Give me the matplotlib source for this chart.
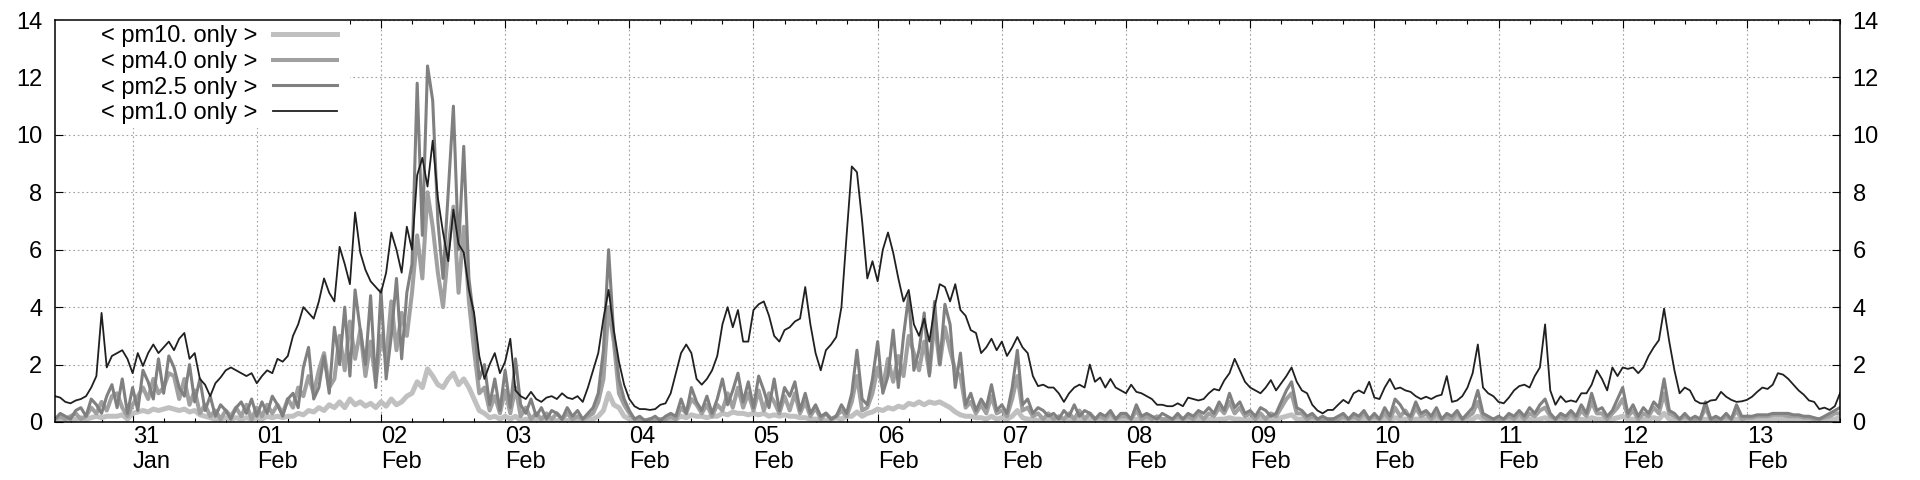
import pandas as pd
import matplotlib
matplotlib.use("Agg")
import matplotlib.pyplot as plt
import matplotlib.dates as mdates
from matplotlib.patches import Rectangle

plt.rcParams['font.family'] = ['Liberation Sans', 'DejaVu Sans']
plt.rcParams['font.size'] = 17

# hourly readings from 30 Jan 09:00 to 13 Feb 18:00
start = "2024-01-30 09:00"

pm1 = [
    0.9, 0.85, 0.7, 0.65, 0.75, 0.8, 0.9, 1.2, 1.6, 3.8, 1.9, 2.3, 2.4, 2.5, 2.2,  # 30 Jan
    1.7, 2.4, 1.95, 2.4, 2.7, 2.4, 2.6, 2.8, 2.5, 2.9, 3.1, 2.2, 2.4, 1.5, 1.3, 0.9, 1.35, 1.55, 1.8, 1.9, 1.8, 1.7, 1.6, 1.7,
    1.35, 1.6, 1.8, 1.7, 2.2, 2.1, 2.3, 3.0, 3.4, 4.0, 3.8, 3.6, 4.2, 5.0, 4.5, 4.2, 6.1, 5.5, 4.8, 7.3, 5.9, 5.3, 4.9, 4.7,
    4.5, 5.2, 6.6, 6.0, 5.2, 6.8, 6.0, 8.6, 9.2, 8.2, 9.8, 7.8, 6.6, 5.6, 7.4, 6.2, 5.9, 4.6, 3.8, 2.3, 1.5, 2.0, 2.4, 1.7,
    2.1, 2.9, 1.1, 0.9, 0.8, 1.05, 0.8, 0.7, 0.85, 0.9, 0.8, 1.0, 0.85, 0.8, 0.9, 0.7, 1.2, 1.8, 2.4, 3.6, 4.6, 3.2, 2.1, 1.3,
    0.8, 0.55, 0.45, 0.45, 0.42, 0.45, 0.6, 0.65, 1.0, 1.7, 2.4, 2.7, 2.4, 1.5, 1.3, 1.5, 1.8, 2.3, 3.4, 4.0, 3.3, 3.9, 2.8, 2.8,
    3.9, 4.1, 4.2, 3.7, 3.0, 2.8, 3.2, 3.3, 3.5, 3.6, 4.7, 3.4, 2.4, 1.8, 2.5, 2.7, 2.96, 4.0, 6.5, 8.9, 8.7, 7.0, 5.0, 5.6,
    4.9, 6.0, 6.6, 5.9, 5.0, 4.2, 4.6, 3.4, 3.0, 3.6, 2.8, 4.0, 4.8, 4.7, 4.2, 4.8, 3.9, 3.7, 3.2, 3.1, 2.4, 2.6, 2.9, 2.5,
    2.8, 2.3, 2.6, 2.96, 2.6, 2.4, 1.6, 1.25, 1.3, 1.2, 1.2, 1.0, 0.7, 1.0, 1.2, 1.3, 1.2, 2.0, 1.4, 1.55, 1.2, 1.5, 1.2, 1.1,
    1.0, 1.3, 1.05, 1.0, 0.9, 0.8, 0.6, 0.6, 0.55, 0.55, 0.65, 0.55, 0.85, 0.8, 0.75, 0.8, 1.0, 1.15, 1.1, 1.45, 1.7, 2.2, 1.8, 1.4,
    1.2, 1.1, 1.0, 1.2, 1.46, 1.1, 1.35, 1.6, 1.9, 1.4, 1.1, 1.0, 0.6, 0.4, 0.3, 0.42, 0.42, 0.6, 0.77, 0.65, 1.0, 1.1, 1.0, 1.4,
    0.85, 0.8, 1.2, 1.5, 1.15, 1.2, 1.1, 1.05, 0.9, 0.8, 0.88, 0.8, 0.9, 0.95, 1.6, 0.7, 0.75, 0.9, 1.2, 1.7, 2.7, 1.2, 1.0, 0.9,
    0.7, 0.65, 0.85, 1.1, 1.25, 1.3, 1.2, 1.6, 1.9, 3.4, 1.1, 0.6, 0.9, 0.7, 0.75, 0.7, 1.0, 1.0, 1.3, 1.8, 1.5, 1.1, 1.9, 1.6,
    1.9, 1.85, 1.9, 1.7, 1.9, 2.3, 2.6, 2.85, 3.95, 2.8, 1.8, 1.0, 1.2, 1.1, 0.75, 0.65, 0.65, 0.75, 0.77, 1.05, 0.88, 0.77, 0.7, 0.72,
    0.77, 0.88, 1.05, 1.2, 1.15, 1.3, 1.7, 1.65, 1.5, 1.3, 1.1, 0.95, 0.75, 0.7, 0.45, 0.5, 0.42, 0.55, 1.0,  # 13 Feb
]

pm25 = [
    0.1, 0.3, 0.2, 0.1, 0.4, 0.5, 0.2, 0.8, 0.6, 0.3, 0.9, 1.3, 0.5, 1.5, 0.3,
    1.2, 0.4, 1.8, 1.4, 0.8, 2.2, 1.0, 2.3, 1.9, 1.2, 0.9, 2.0, 0.7, 1.5, 0.4, 0.9, 0.2, 0.6, 0.4, 0.1, 0.5, 0.7, 0.3, 0.8,
    0.2, 0.7, 0.3, 0.9, 0.6, 0.2, 0.8, 1.0, 0.5, 1.9, 2.6, 0.8, 1.2, 2.3, 1.0, 3.3, 2.0, 4.0, 1.6, 4.6, 3.2, 2.0, 4.4, 1.2,
    4.6, 1.5, 3.0, 5.0, 2.2, 4.5, 5.5, 11.8, 6.5, 12.4, 11.2, 7.0, 5.0, 8.0, 11.0, 6.0, 9.6, 5.0, 3.5, 1.5, 2.0, 0.6, 1.5, 0.4,
    1.8, 0.5, 2.2, 0.6, 0.3, 0.8, 0.2, 0.5, 0.1, 0.4, 0.3, 0.1, 0.5, 0.2, 0.4, 0.1, 0.3, 0.5, 1.0, 2.5, 6.0, 3.0, 1.5, 0.8,
    0.4, 0.1, 0.2, 0.05, 0.1, 0.2, 0.05, 0.2, 0.3, 0.2, 0.8, 0.3, 1.2, 0.7, 0.4, 0.9, 0.3, 0.8, 1.5, 0.6, 1.1, 1.7, 0.7, 1.4,
    0.5, 1.6, 1.1, 0.5, 1.5, 0.4, 1.2, 0.9, 1.4, 0.4, 1.0, 0.3, 0.6, 0.2, 0.3, 0.1, 0.2, 0.6, 0.3, 1.0, 2.5, 0.8, 0.6, 1.5,
    2.8, 1.0, 1.6, 3.2, 1.2, 3.0, 4.4, 1.8, 2.5, 3.8, 1.6, 4.2, 2.0, 4.1, 3.4, 1.2, 2.4, 0.6, 1.0, 0.4, 0.8, 0.5, 1.3, 0.4,
    0.6, 0.3, 1.2, 2.5, 0.6, 0.8, 0.3, 0.5, 0.4, 0.2, 0.3, 0.1, 0.4, 0.2, 0.6, 0.2, 0.4, 0.3, 0.1, 0.3, 0.2, 0.4, 0.1, 0.3,
    0.3, 0.1, 0.6, 0.2, 0.3, 0.2, 0.1, 0.3, 0.2, 0.1, 0.3, 0.1, 0.3, 0.2, 0.4, 0.3, 0.5, 0.3, 0.7, 0.4, 1.0, 0.5, 0.7, 0.3,
    0.4, 0.2, 0.5, 0.4, 0.2, 0.3, 0.7, 1.1, 1.4, 0.5, 0.4, 0.2, 0.3, 0.1, 0.2, 0.1, 0.1, 0.2, 0.3, 0.1, 0.3, 0.2, 0.4, 0.1,
    0.3, 0.1, 0.5, 0.2, 0.8, 0.6, 0.3, 0.2, 0.7, 0.3, 0.4, 0.2, 0.5, 0.1, 0.3, 0.2, 0.4, 0.1, 0.3, 0.5, 1.1, 0.3, 0.2, 0.1,
    0.2, 0.1, 0.3, 0.2, 0.4, 0.2, 0.5, 0.3, 0.6, 0.8, 0.3, 0.1, 0.3, 0.2, 0.4, 0.2, 0.6, 0.3, 1.0, 0.4, 0.5, 0.2, 0.4, 0.8,
    1.2, 0.3, 0.6, 0.2, 0.5, 0.3, 0.7, 0.5, 1.5, 0.4, 0.3, 0.1, 0.3, 0.1, 0.2, 0.1, 0.7, 0.1, 0.2, 0.1, 0.3, 0.1, 0.6, 0.2,
    0.2, 0.2, 0.25, 0.25, 0.25, 0.3, 0.3, 0.3, 0.3, 0.25, 0.25, 0.2, 0.2, 0.15, 0.1, 0.2, 0.3, 0.4, 0.5,
]

pm4 = [
    0.1, 0.2, 0.1, 0.2, 0.3, 0.1, 0.2, 0.5, 0.3, 0.7, 0.4, 0.9, 1.0, 0.5, 0.2,
    0.6, 0.9, 1.2, 0.8, 1.5, 1.0, 1.2, 1.7, 1.6, 0.8, 1.5, 0.6, 1.1, 0.3, 0.6, 0.2, 0.4, 0.1, 0.4, 0.2, 0.5, 0.2, 0.6, 0.1,
    0.5, 0.2, 0.6, 0.3, 0.6, 0.3, 0.8, 0.5, 1.2, 0.9, 1.6, 1.0, 1.8, 2.4, 1.2, 1.5, 3.0, 1.8, 3.5, 2.2, 3.2, 1.6, 2.8, 1.4,
    3.0, 2.2, 4.2, 2.5, 3.8, 3.0, 4.5, 6.5, 5.0, 8.0, 6.8, 5.2, 4.0, 6.0, 7.5, 4.5, 6.8, 4.2, 2.5, 1.0, 1.2, 0.4, 0.9, 0.3,
    1.1, 0.3, 1.2, 0.2, 0.5, 0.1, 0.3, 0.1, 0.3, 0.1, 0.3, 0.1, 0.3, 0.1, 0.2, 0.1, 0.2, 0.3, 0.7, 1.5, 4.0, 2.8, 1.0, 0.6,
    0.3, 0.1, 0.1, 0.05, 0.1, 0.05, 0.1, 0.1, 0.2, 0.1, 0.5, 0.3, 0.8, 0.6, 0.3, 0.6, 0.2, 0.6, 0.4, 1.0, 0.5, 1.2, 0.5, 1.0,
    0.4, 1.1, 0.4, 1.0, 0.7, 0.3, 0.9, 0.4, 1.0, 0.3, 0.7, 0.2, 0.5, 0.1, 0.3, 0.1, 0.2, 0.4, 0.2, 0.7, 1.6, 0.4, 0.5, 1.0,
    1.9, 1.2, 2.2, 1.4, 2.3, 1.6, 3.0, 2.4, 1.8, 2.8, 1.7, 3.5, 2.0, 3.3, 2.5, 1.8, 1.6, 0.5, 0.7, 0.3, 0.6, 0.3, 0.9, 0.3,
    0.4, 0.2, 0.8, 1.6, 0.4, 0.5, 0.2, 0.3, 0.1, 0.3, 0.1, 0.2, 0.1, 0.3, 0.1, 0.4, 0.1, 0.3, 0.1, 0.2, 0.1, 0.3, 0.1, 0.2,
    0.2, 0.1, 0.4, 0.1, 0.2, 0.1, 0.2, 0.1, 0.1, 0.1, 0.2, 0.1, 0.2, 0.1, 0.3, 0.1, 0.3, 0.2, 0.5, 0.3, 0.7, 0.3, 0.5, 0.2,
    0.3, 0.1, 0.3, 0.1, 0.3, 0.2, 0.5, 0.8, 1.0, 0.3, 0.3, 0.1, 0.2, 0.1, 0.1, 0.1, 0.1, 0.1, 0.2, 0.1, 0.2, 0.1, 0.3, 0.1,
    0.2, 0.1, 0.3, 0.1, 0.5, 0.2, 0.4, 0.1, 0.5, 0.2, 0.3, 0.1, 0.3, 0.1, 0.2, 0.1, 0.3, 0.1, 0.2, 0.3, 0.7, 0.2, 0.1, 0.1,
    0.1, 0.1, 0.2, 0.1, 0.3, 0.1, 0.3, 0.2, 0.4, 0.5, 0.2, 0.1, 0.2, 0.1, 0.3, 0.1, 0.4, 0.2, 0.7, 0.3, 0.3, 0.1, 0.3, 0.5,
    0.8, 0.2, 0.4, 0.1, 0.3, 0.2, 0.5, 0.3, 1.0, 0.3, 0.2, 0.1, 0.2, 0.1, 0.1, 0.1, 0.5, 0.1, 0.1, 0.1, 0.2, 0.1, 0.4, 0.1,
    0.15, 0.15, 0.2, 0.2, 0.2, 0.25, 0.25, 0.25, 0.2, 0.2, 0.2, 0.15, 0.15, 0.1, 0.1, 0.15, 0.2, 0.3, 0.3,
]

pm10 = [
    0.1, 0.1, 0.1, 0.1, 0.1, 0.15, 0.1, 0.15, 0.2, 0.15, 0.2, 0.2, 0.2, 0.25, 0.1,
    0.3, 0.35, 0.4, 0.35, 0.45, 0.4, 0.45, 0.5, 0.45, 0.4, 0.45, 0.35, 0.4, 0.25, 0.2, 0.15, 0.1, 0.1, 0.15, 0.1, 0.15, 0.1, 0.15, 0.1,
    0.15, 0.1, 0.2, 0.15, 0.2, 0.15, 0.2, 0.2, 0.3, 0.25, 0.4, 0.35, 0.5, 0.4, 0.6, 0.5, 0.7, 0.5, 0.8, 0.6, 0.7, 0.55, 0.65, 0.5,
    0.7, 0.55, 0.8, 0.6, 0.7, 0.9, 1.0, 1.4, 1.2, 1.85, 1.6, 1.3, 1.2, 1.5, 1.7, 1.3, 1.5, 1.2, 0.8, 0.4, 0.3, 0.15, 0.2, 0.1,
    0.2, 0.1, 0.2, 0.05, 0.1, 0.05, 0.05, 0.05, 0.05, 0.05, 0.05, 0.05, 0.05, 0.05, 0.05, 0.05, 0.1, 0.1, 0.2, 0.4, 1.0, 0.6, 0.5, 0.2,
    0.1, 0.05, 0.05, 0.05, 0.05, 0.05, 0.05, 0.05, 0.1, 0.1, 0.2, 0.15, 0.25, 0.2, 0.2, 0.15, 0.2, 0.2, 0.3, 0.25, 0.35, 0.3, 0.3, 0.25,
    0.3, 0.25, 0.3, 0.2, 0.25, 0.2, 0.25, 0.2, 0.2, 0.15, 0.15, 0.1, 0.1, 0.05, 0.05, 0.1, 0.15, 0.1, 0.2, 0.2, 0.35, 0.2, 0.3, 0.35,
    0.45, 0.4, 0.5, 0.45, 0.55, 0.5, 0.65, 0.6, 0.7, 0.6, 0.7, 0.65, 0.7, 0.6, 0.5, 0.35, 0.25, 0.2, 0.2, 0.15, 0.15, 0.1, 0.2, 0.1,
    0.15, 0.1, 0.2, 0.4, 0.15, 0.1, 0.1, 0.05, 0.1, 0.05, 0.1, 0.05, 0.05, 0.1, 0.05, 0.1, 0.05, 0.1, 0.05, 0.05, 0.05, 0.1, 0.05, 0.05,
    0.05, 0.05, 0.1, 0.05, 0.05, 0.05, 0.05, 0.05, 0.05, 0.05, 0.05, 0.05, 0.05, 0.05, 0.1, 0.05, 0.1, 0.05, 0.1, 0.1, 0.15, 0.1, 0.1, 0.05,
    0.1, 0.05, 0.1, 0.05, 0.1, 0.1, 0.15, 0.2, 0.25, 0.1, 0.1, 0.05, 0.05, 0.05, 0.05, 0.05, 0.05, 0.05, 0.05, 0.05, 0.1, 0.05, 0.1, 0.05,
    0.1, 0.05, 0.1, 0.05, 0.15, 0.1, 0.1, 0.05, 0.1, 0.1, 0.1, 0.05, 0.1, 0.05, 0.05, 0.05, 0.1, 0.05, 0.1, 0.1, 0.2, 0.1, 0.05, 0.05,
    0.05, 0.05, 0.05, 0.05, 0.1, 0.05, 0.1, 0.05, 0.1, 0.15, 0.05, 0.05, 0.05, 0.05, 0.1, 0.05, 0.1, 0.05, 0.15, 0.1, 0.1, 0.05, 0.1, 0.15,
    0.2, 0.1, 0.1, 0.05, 0.1, 0.1, 0.15, 0.1, 0.3, 0.1, 0.05, 0.05, 0.05, 0.05, 0.05, 0.05, 0.1, 0.05, 0.05, 0.05, 0.05, 0.05, 0.1, 0.05,
    0.05, 0.05, 0.1, 0.1, 0.1, 0.1, 0.1, 0.1, 0.1, 0.1, 0.1, 0.1, 0.05, 0.05, 0.05, 0.05, 0.1, 0.1, 0.15,
]

labels = ['< pm10. only >', '< pm4.0 only >', '< pm2.5 only >', '< pm1.0 only >']
colors = ['#c0c0c0', '#a0a0a0', '#808080', '#202020']

t = pd.date_range(start, periods=len(pm1), freq='h')
days = pd.date_range("2024-01-31", "2024-02-13", freq='D')
day_labels = [d.strftime('%d\n%b') for d in days]

fig = plt.figure(figsize=(19.2, 4.8), dpi=100)
ax = fig.add_axes([55 / 1920, 58 / 480, 1785 / 1920, 402 / 480])

widths = [3.6, 2.9, 2.2, 1.3]
for ys, lab, c, w in zip([pm10, pm4, pm25, pm1], labels, colors, widths):
    ax.plot(t, ys, color=c, lw=w, label=lab, zorder=2)

ax.set_xlim(t[0], t[-1])
ax.set_ylim(0, 14)
ax.set_yticks(range(0, 15, 2))
ax.set_xticks(days)
ax.set_xticklabels(day_labels, ha='left', linespacing=1.18)
ax.xaxis.set_minor_locator(mdates.HourLocator(byhour=[6, 12, 18]))

ax.grid(True, which='major', color='#a0a0a0', linestyle=(0, (1.5, 2.5)), lw=0.8)
ax.tick_params(which='both', direction='in', top=True, right=True, labelright=True,
               width=0.8, labelsize=17)
ax.tick_params(which='major', length=6)
ax.tick_params(which='minor', length=3)
ax.tick_params(axis='y', pad=9)
ax.tick_params(axis='x', pad=3)
for s in ax.spines.values():
    s.set_linewidth(1.1)

# white box behind the key, like gnuplot's opaque key
ax.add_patch(Rectangle((0, 0.731), 0.1653, 0.269, transform=ax.transAxes,
                       facecolor='white', edgecolor='none', zorder=1.8))
ax.legend(loc='upper right', bbox_to_anchor=((337 - 55) / 1785, (422 - 25) / 402),
          frameon=False, markerfirst=False, handlelength=2.7, handletextpad=0.68,
          labelspacing=0.16, borderpad=0, borderaxespad=0, fontsize=17)

fig.savefig('out.png', dpi=100)
